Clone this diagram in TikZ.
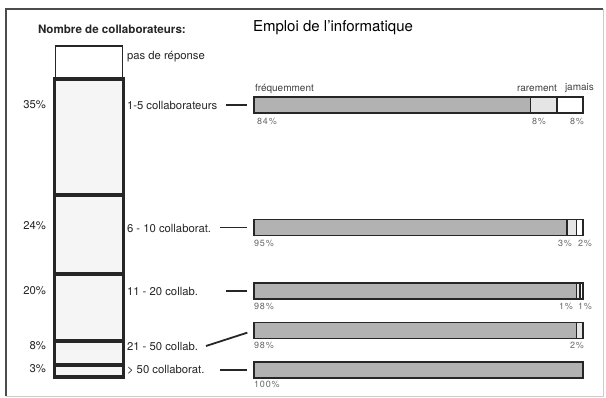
\documentclass[tikz,border=0pt]{standalone}
\usepackage{fontspec}
\setmainfont{TeX Gyre Heros}
\newfontfamily\pctfont[LetterSpace=10]{TeX Gyre Heros}
\usetikzlibrary{positioning}
\tikzset{every node/.style={inner sep=0pt,outer sep=0pt,text=black!85},
  lbl/.style={anchor=west,font=\fontsize{11.3}{11.3}\selectfont},
  small/.style={anchor=west,font=\fontsize{10}{10}\selectfont,text=black!75},
  pct/.style={font=\pctfont\fontsize{9}{9}\selectfont,text=black!60},
  colseg/.style={draw=black!85,line width=3.8pt,fill=black!4,minimum width=69pt,anchor=north west},
  bar/.style={draw=black!85,line width=1.8pt,minimum height=16pt,anchor=west},
  freq/.style={bar,fill=black!30},
  rare/.style={bar,fill=black!10},
  never/.style={bar,fill=white},
  conn/.style={draw=black!85,line width=1.8pt,shorten >=7pt}}

\begin{document}
\begin{tikzpicture}[x=1pt,y=-1pt]
    \useasboundingbox (0,0) rectangle (606,398);
    \draw[black!70,line width=1.2pt] (6,396) -- (6,9) -- (603,9);
    \draw[black!20] (603,9) -- (603,396) -- (6,396);
    % titles
    \node[anchor=west,font=\bfseries\fontsize{11.6}{11.6}\selectfont] (t1) at (38,29) {Nombre de collaborateurs:};
    \node[anchor=west,font=\fontsize{15}{15}\selectfont,text=black] (t2) at (253,28) {Emploi de l'informatique};
    % column
    \node[draw=black!85,line width=1.2pt,fill=white,minimum width=67pt,minimum height=32pt,anchor=north west] (s0) at (55.5,46) {};
    \node[colseg,minimum height=116pt] (s1) at (54.5,79) {};
    \node[colseg,minimum height=79pt] (s2) at (54.5,195) {};
    \node[colseg,minimum height=67pt] (s3) at (54.5,274) {};
    \node[colseg,minimum height=24pt] (s4) at (54.5,341) {};
    \node[colseg,minimum height=12pt] (s5) at (54.5,365) {};
    \node[lbl,anchor=east] (q1) at (46,105) {35\%};
    \node[lbl,anchor=east] (q2) at (46,226) {24\%};
    \node[lbl,anchor=east] (q3) at (46,291) {20\%};
    \node[lbl,anchor=east] (q4) at (46,346) {8\%};
    \node[lbl,anchor=east] (q5) at (46,369) {3\%};
    % classes
    \node[lbl] (g0) at (127,57) {pas de réponse};
    \node[lbl] (g1) at (127,105) {1-5 collaborateurs};
    \node[lbl] (g2) at (127,228) {6 - 10 collaborat.};
    \node[lbl] (g3) at (127,291) {11 - 20 collab.};
    \node[lbl] (g4) at (127,346) {21 - 50 collab.};
    \node[lbl] (g5) at (127,370) {> 50 collaborat.};
    % bars
    \node[freq,minimum width=276.4pt] (f1) at (254,105) {};
    \node[rare,minimum width=26.3pt,right=0pt of f1] (r1) {};
    \node[never,minimum width=26.3pt,right=0pt of r1] (j1) {};
    \node[freq,minimum width=312.6pt] (f2) at (254,227.5) {};
    \node[rare,minimum width=9.9pt,right=0pt of f2] (r2) {};
    \node[never,minimum width=6.6pt,right=0pt of r2] (j2) {};
    \node[freq,minimum width=322.4pt] (f3) at (254,291) {};
    \node[rare,minimum width=3.3pt,right=0pt of f3] (r3) {};
    \node[never,minimum width=3.3pt,right=0pt of r3] (j3) {};
    \node[freq,minimum width=322.4pt] (f4) at (254,330.5) {};
    \node[rare,minimum width=6.6pt,right=0pt of f4] (r4) {};
    \node[freq,minimum width=329pt] (f5) at (254,370) {};
    % bar labels
    \node[small] (h1) at (255,89) {fréquemment};
    \node[small,anchor=east] (h2) at (557,88) {rarement};
    \node[small] (h3) at (565,88) {jamais};
    \node[pct,anchor=west] (p1) at (257,121) {84\%};
    \node[pct,anchor=west] (p2) at (532,121) {8\%};
    \node[pct,anchor=east] (p3) at (584,121) {8\%};
    \node[pct,anchor=west] (p4) at (254,243) {95\%};
    \node[pct,anchor=west] (p5) at (558,243) {3\%};
    \node[pct,anchor=west] (p6) at (578,243) {2\%};
    \node[pct,anchor=west] (p7) at (254,306) {98\%};
    \node[pct,anchor=west] (p8) at (559,306) {1\%};
    \node[pct,anchor=west] (p9) at (578,306) {1\%};
    \node[pct,anchor=west] (p10) at (254,345) {98\%};
    \node[pct,anchor=east] (p11) at (584,345) {2\%};
    \node[pct,anchor=west] (p12) at (254,384) {100\%};
    % connectors
    \coordinate (c1) at (226,105);
    \coordinate (c2) at (220,227.5);
    \coordinate (c3) at (226,291);
    \coordinate (c4) at (206,346);
    \coordinate (c5) at (220,370);
    \draw[conn] (c1) -- (f1.west);
    \draw[conn] (c2) -- (f2.west);
    \draw[conn] (c3) -- (f3.west);
    \draw[conn] (c4) -- (f4.west);
    \draw[conn] (c5) -- (f5.west);
\end{tikzpicture}
\end{document}
